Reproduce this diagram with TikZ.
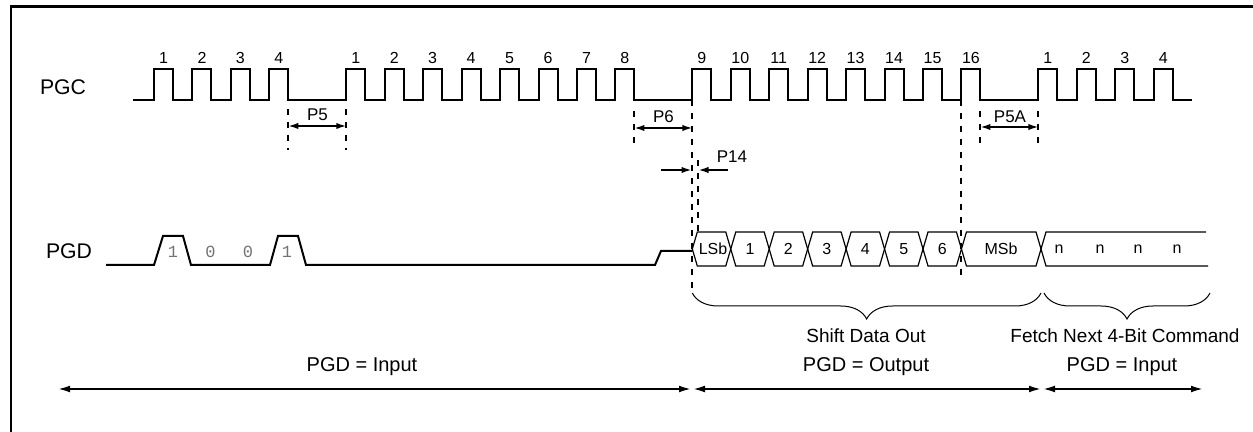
\documentclass[tikz,border=0pt]{standalone}
\usepackage{fontspec}
\setmainfont{Liberation Sans}
\newfontfamily\bitfont{Liberation Mono}
\usetikzlibrary{positioning}
\usetikzlibrary{arrows.meta}
\usetikzlibrary{decorations.pathreplacing}

\begin{document}
\begin{tikzpicture}[
        x = 0.5pt, y = -0.5pt,
        wave/.style = {line width = 1pt},
        bus/.style = {line width = 0.6pt},
        guide/.style = {line width = 1pt, dash pattern = on 3pt off 3.5pt},
        dim/.style = {line width = 0.8pt, {Latex[length=5pt, width=3.2pt]}-{Latex[length=5pt, width=3.2pt]}},
        ptr/.style = {line width = 0.8pt, -{Latex[length=5pt, width=3.2pt]}},
        span/.style = {line width = 0.9pt, {Latex[length=6pt, width=3.4pt]}-{Latex[length=6pt, width=3.4pt]}},
        sig/.style = {font = \fontsize{10.6}{12}\selectfont, inner sep = 0pt},
        num/.style = {font = \fontsize{8}{10}\selectfont, inner sep = 0pt},
        tag/.style = {font = \fontsize{8.5}{10}\selectfont, inner sep = 0pt},
        bit/.style = {font = \bitfont\fontsize{8.5}{10}\selectfont, text = black!55, inner sep = 0pt},
        note/.style = {font = \fontsize{10}{12}\selectfont, inner sep = 0pt},
        group/.style = {font = \fontsize{9.5}{11}\selectfont, inner sep = 0pt},
        grp/.style = {line width = 0.5pt, decorate, decoration = {brace, mirror, amplitude = 13pt}}
    ]
    \useasboundingbox (0,0) rectangle (1253,432);
    \draw[line width = 1.2pt] (11,432) -- (11,6.5) -- (1253,6.5);

    \node[sig] (pgc) at (63,87) {PGC};
    \node[sig] (pgd) at (69,251) {PGD};

    \draw[wave] (133,100)
        foreach \n in {0,1,2,3,5,6,7,8,9,10,11,12,14,15,16,17,18,19,20,21,23,24,25,26}
        { -- ({154+38.45*\n},100) -- ++(0,-31) -- ++(19,0) -- ++(0,31) }
        -- (1192,100);
    \foreach \n/\k in {0/1,1/2,2/3,3/4,5/1,6/2,7/3,8/4,9/5,10/6,11/7,12/8,
                       14/9,15/10,16/11,17/12,18/13,19/14,20/15,21/16,23/1,24/2,25/3,26/4}
        \node[num] (c\n) at ({163.5+38.45*\n},58) {\k};

    \coordinate (g1) at (288.35,126);
    \coordinate (g2) at (346.25,126);
    \coordinate (g3) at (634.4,128);
    \coordinate (g4) at (692.3,128);
    \coordinate (g5) at (980.45,127);
    \coordinate (g6) at (1038.35,127);
    \draw[guide] (288.35,109) -- (288.35,150);
    \draw[guide] (346.25,109) -- (346.25,150);
    \draw[guide] (634.4,111) -- (634.4,150);
    \draw[guide] (692.3,100) -- (692.3,293);
    \draw[guide] (698,160) -- (698,232);
    \draw[guide] (961.45,100) -- (961.45,281);
    \draw[guide] (980.45,111) -- (980.45,150);
    \draw[guide] (1038.35,111) -- (1038.35,150);

    \draw[dim] (g1) -- (g2);
    \node[tag] (p5) at (317.5,115) {P5};
    \draw[dim] (g3) -- (g4);
    \node[tag] (p6) at (663.5,117) {P6};
    \draw[dim] (g5) -- (g6);
    \node[tag] (p5a) at (1010,117) {P5A};

    \coordinate (h1) at (661,170);
    \coordinate (h2) at (691.5,170);
    \coordinate (h3) at (728,170);
    \coordinate (h4) at (698.5,170);
    \draw[ptr] (h1) -- (h2);
    \draw[ptr] (h3) -- (h4);
    \node[tag] (p14) at (732,157) {P14};

    \draw[wave] (106,265) -- (154,265) -- (163,236) -- (183,236) -- (191,265)
        -- (270,265) -- (278,236) -- (298,236) -- (306,265)
        -- (655,265) -- (661,251) -- (692.3,251);
    \node[bit] (b1) at (173,252) {1};
    \node[bit] (b2) at (210.5,252) {0};
    \node[bit] (b3) at (248,252) {0};
    \node[bit] (b4) at (287,252) {1};

    \foreach \a/\b in {692.3/730.75,730.75/769.2,769.2/807.65,807.65/846.1,
                       846.1/884.55,884.55/923,923/961.45,961.45/1041}
        \draw[bus] (\a,249) -- ++(5,-17) -- ({\b-5},232) -- (\b,249)
            -- ({\b-5},266) -- ({\a+5},266) -- cycle;
    \draw[bus] (1206,232) -- (1046,232) -- (1041,249) -- (1046,266) -- (1208,266);
    \node[num] (d0) at (713,249) {LSb};
    \node[num] (d1) at (750,249) {1};
    \node[num] (d2) at (788.4,249) {2};
    \node[num] (d3) at (826.9,249) {3};
    \node[num] (d4) at (865.3,249) {4};
    \node[num] (d5) at (903.8,249) {5};
    \node[num] (d6) at (942.2,249) {6};
    \node[num] (d7) at (1001,249) {MSb};
    \node[num] (n1) at (1059,249) {n};
    \node[num] (n2) at (1100,249) {n};
    \node[num] (n3) at (1138,249) {n};
    \node[num] (n4) at (1177,249) {n};

    \draw[grp] (692.3,293) -- (1041,293);
    \draw[grp] (1044,293) -- (1210,293);
    \node[group] (shift) at (866,336) {Shift Data Out};
    \node[group] (fetch) at (1125,336) {Fetch Next 4-Bit Command};

    \coordinate (s0) at (58,389);
    \coordinate (s1) at (691,389);
    \coordinate (s2) at (693,389);
    \coordinate (s3) at (1041,389);
    \coordinate (s4) at (1043,389);
    \coordinate (s5) at (1203,389);
    \draw[span] (s0) -- (s1);
    \draw[span] (s2) -- (s3);
    \draw[span] (s4) -- (s5);
    \node[note] (in1) at (362,367) {PGD = Input};
    \node[note] (out) at (866,367) {PGD = Output};
    \node[note] (in2) at (1122,367) {PGD = Input};
\end{tikzpicture}
\end{document}
